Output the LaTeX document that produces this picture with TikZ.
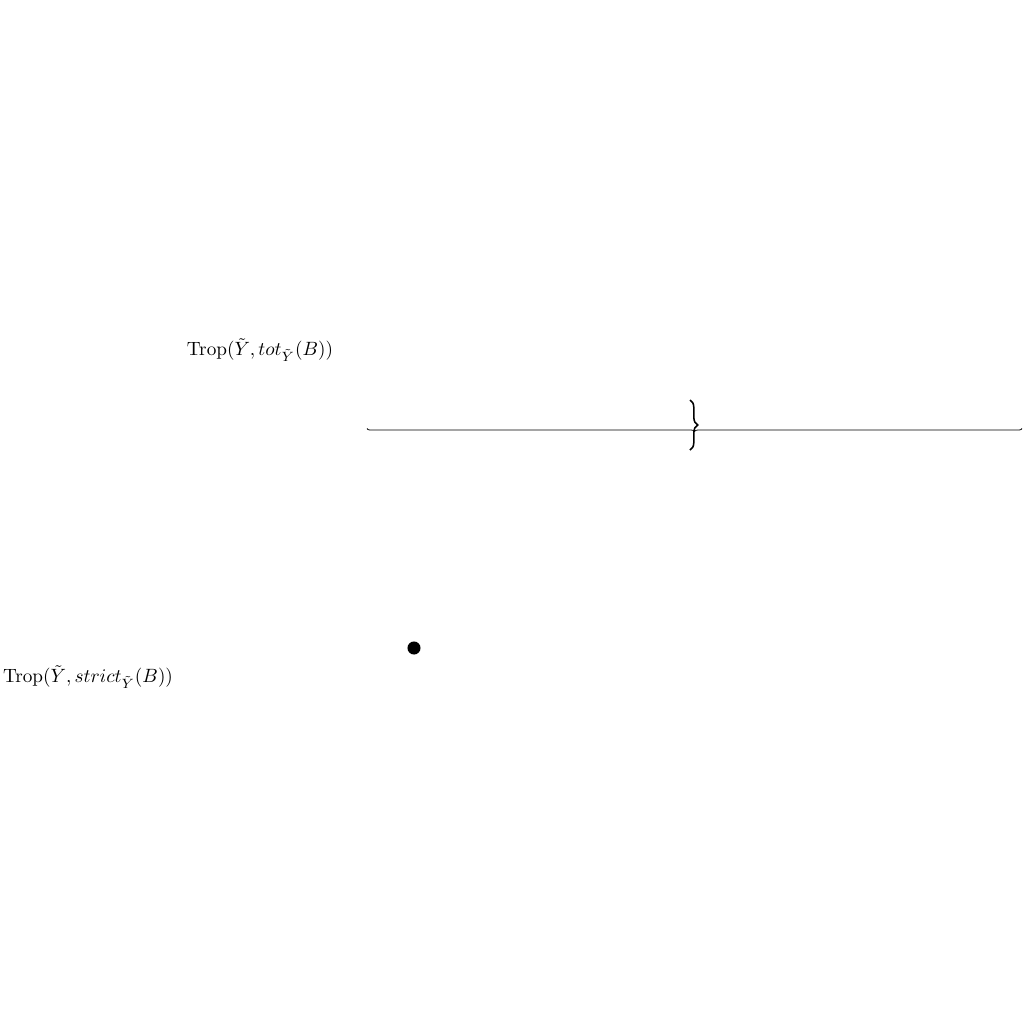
\documentclass[tikz,border=0pt]{standalone}
\usetikzlibrary{decorations.pathreplacing}
\begin{document}
\begin{tikzpicture}[x=0.52pt,y=-0.52pt,
  lbl/.style={inner sep=0pt},
  hbrace/.style={decorate,decoration={brace,amplitude=1.6pt,mirror},line width=0.4pt},
  vbrace/.style={decorate,decoration={brace,amplitude=4pt},line width=0.8pt},
  dotnode/.style={circle,fill=black,inner sep=0pt,minimum size=6.8pt}]
\useasboundingbox (0,0) rectangle (1024,1024);
\node[lbl] (tot) at (260,350) {$\mathrm{Trop}(\tilde{Y},tot_{\tilde{Y}}(B))$};
\node[lbl] (strict) at (88,677) {$\mathrm{Trop}(\tilde{Y},strict_{\tilde{Y}}(B))$};
\node[dotnode] (dot) at (414,648) {};
\coordinate (hl) at (367,428.5);
\coordinate (hr) at (1022,428.5);
\coordinate (vt) at (690,400);
\coordinate (vb) at (690,450);
\draw[hbrace] (hl) -- (hr);
\draw[vbrace] (vt) -- (vb);
\end{tikzpicture}
\end{document}
